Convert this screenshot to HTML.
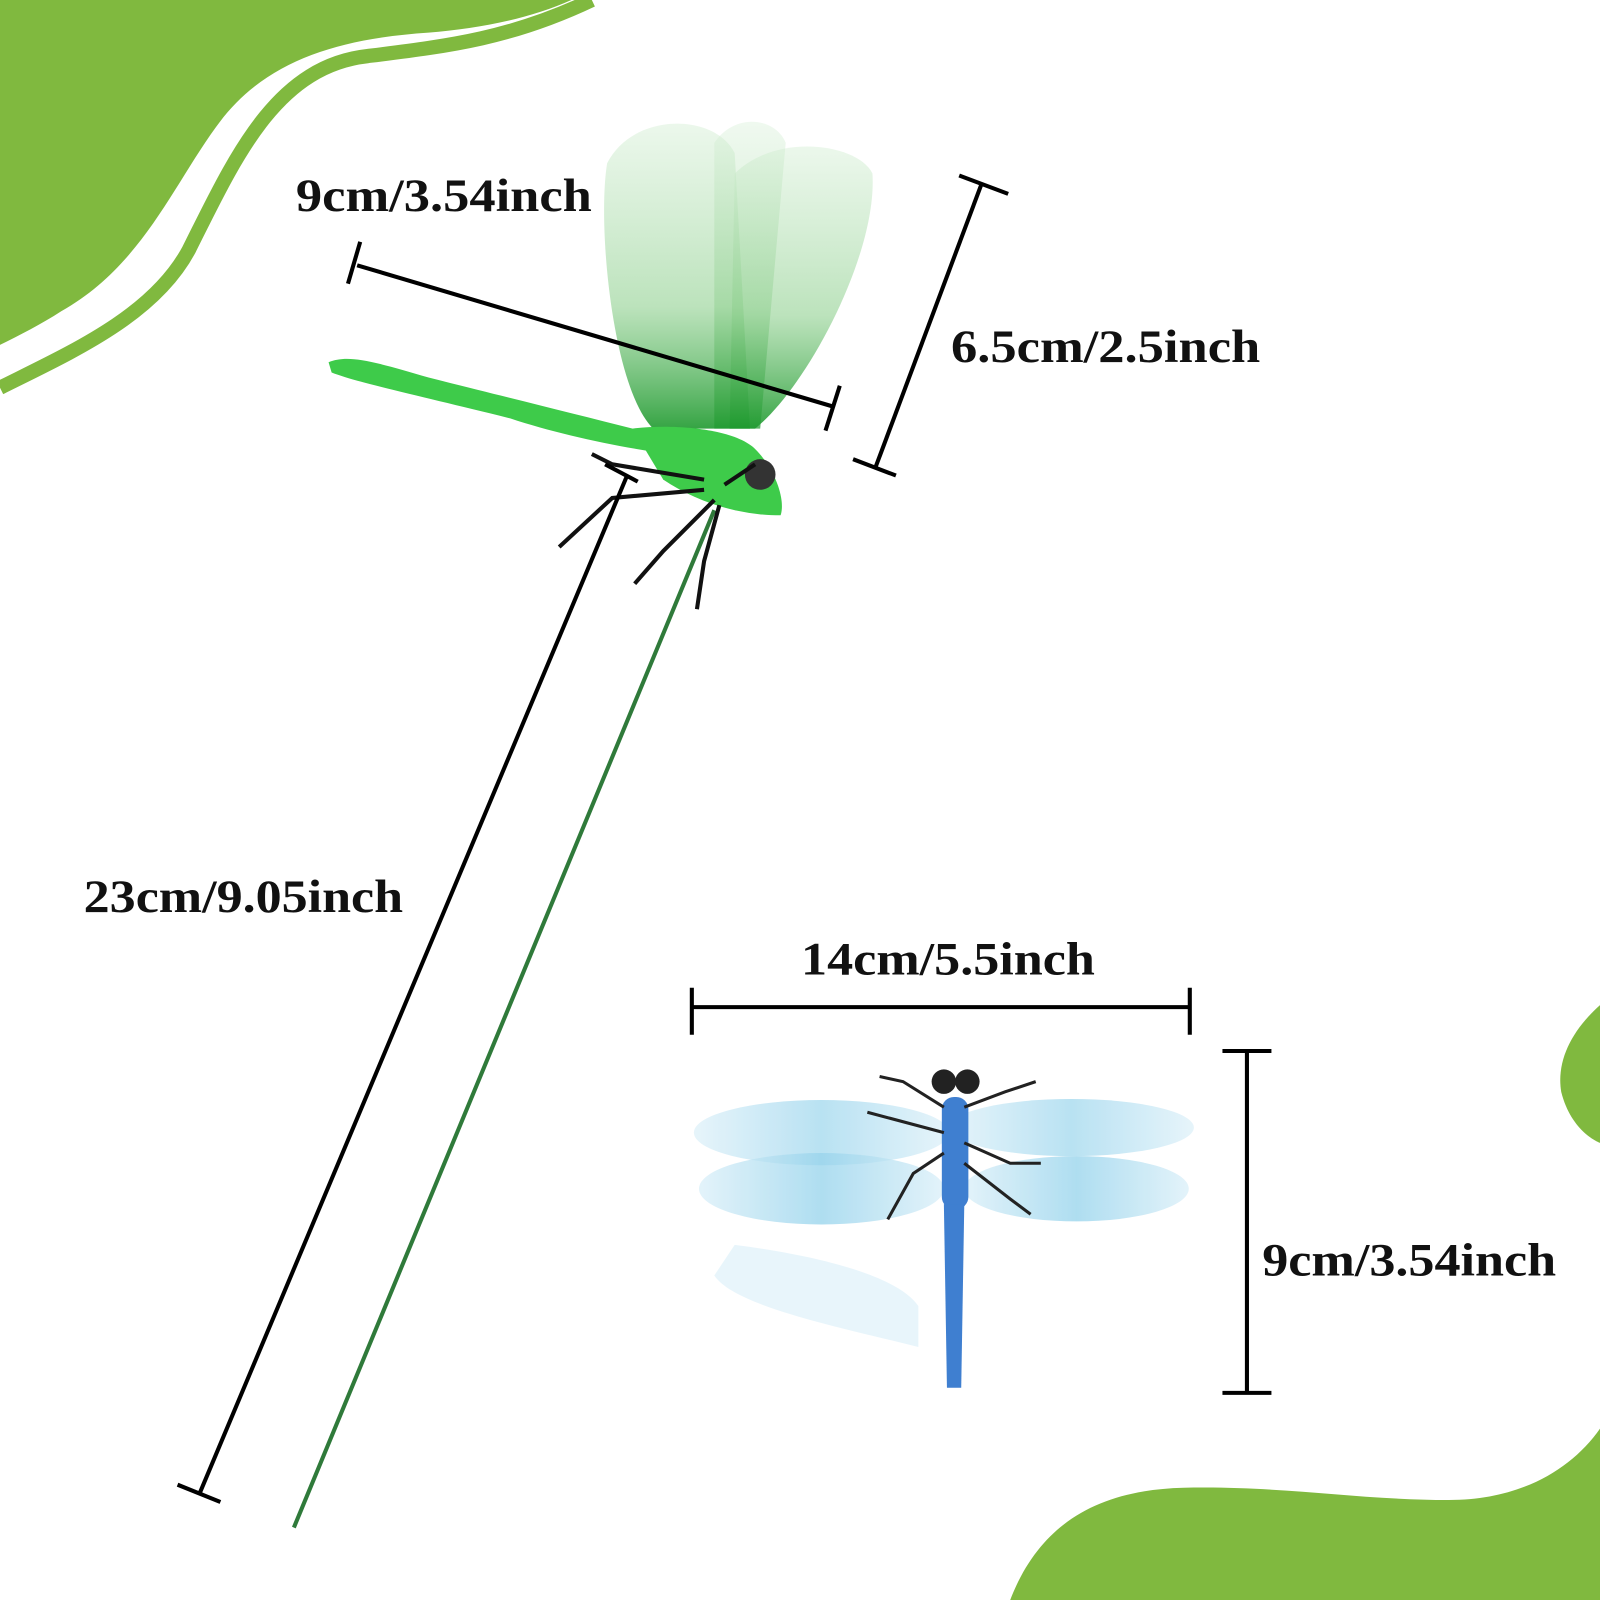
<!DOCTYPE html>
<html><head><style>html,body{margin:0;padding:0;background:#fff}svg{display:block}</style></head>
<body>
<svg width="1600" height="1600" viewBox="0 0 1568 1568" xmlns="http://www.w3.org/2000/svg">
<defs>
<linearGradient id="gw" x1="0" y1="0" x2="0" y2="1"><stop offset="0" stop-color="#d8f0d8" stop-opacity="0.5"/><stop offset="0.6" stop-color="#8fd08f" stop-opacity="0.6"/><stop offset="1" stop-color="#1f9a2f" stop-opacity="0.9"/></linearGradient>
<linearGradient id="bw" x1="0" y1="0" x2="1" y2="0"><stop offset="0" stop-color="#d8eef8"/><stop offset="0.5" stop-color="#8fd0ea"/><stop offset="1" stop-color="#d8eef8"/></linearGradient>
</defs>
<path d="M0,0 L560,0 C520,18 470,28 420,32 C330,38 260,60 215,120 C170,180 140,260 60,305 C40,318 20,328 0,338 Z" fill="#80b93f"/>
<path d="M0,380 C70,345 150,310 185,245 C230,155 270,65 360,55 C440,45 500,38 580,0" fill="none" stroke="#80b93f" stroke-width="14"/>
<path d="M990,1568 C1020,1490 1080,1460 1160,1458 C1260,1456 1330,1470 1420,1470 C1490,1470 1540,1440 1568,1400 L1568,1568 Z" fill="#80b93f"/>
<path d="M1568,985 C1540,1010 1525,1040 1530,1070 C1540,1110 1568,1120 1568,1120 Z" fill="#80b93f"/>
<line x1="700" y1="500" x2="288" y2="1497" stroke="#2f7a3a" stroke-width="4"/>
<path d="M595,160 C620,110 700,110 720,150 L735,420 L640,420 C600,380 585,220 595,160Z" fill="url(#gw)"/>
<path d="M720,170 C760,130 840,140 855,170 C860,250 790,380 740,420 L715,420 Z" fill="url(#gw)"/>
<path d="M700,140 C720,110 760,115 770,140 L745,420 L700,420 Z" fill="url(#gw)" opacity="0.8"/>
<path d="M322,355 C340,348 360,352 420,370 C500,390 560,405 620,420 L700,430 L700,450 C640,445 560,430 500,410 C420,390 350,375 325,365 Z" fill="#3ecb4a"/>
<path d="M620,420 C660,415 720,420 740,440 C760,460 770,490 765,505 C720,505 680,490 650,470 Z" fill="#3ecb4a"/>
<circle cx="745" cy="465" r="15" fill="#333"/>
<g stroke="#111" stroke-width="4" fill="none">
<path d="M690,470 L600,455 L580,445"/><path d="M690,480 L600,488 L548,536"/><path d="M700,490 L650,540 L622,572"/><path d="M705,495 L690,550 L683,597"/><path d="M710,475 L740,455"/>
</g>
<g opacity="0.9">
<ellipse cx="805" cy="1110" rx="125" ry="32" fill="url(#bw)" opacity="0.7"/>
<ellipse cx="805" cy="1165" rx="120" ry="35" fill="url(#bw)" opacity="0.8"/>
<ellipse cx="1050" cy="1105" rx="120" ry="28" fill="url(#bw)" opacity="0.7"/>
<ellipse cx="1055" cy="1165" rx="110" ry="32" fill="url(#bw)" opacity="0.8"/>
</g>
<path d="M720,1220 C800,1230 880,1250 900,1280 L900,1320 C820,1300 720,1280 700,1250 Z" fill="#d8eff8" opacity="0.6"/>
<rect x="923" y="1075" width="26" height="110" rx="12" fill="#3f7fd0"/>
<path d="M925,1180 L945,1180 L942,1360 L928,1360 Z" fill="#3f7fd0"/>
<circle cx="925" cy="1060" r="12" fill="#222"/><circle cx="948" cy="1060" r="12" fill="#222"/>
<g stroke="#222" stroke-width="3" fill="none">
<path d="M925,1085 L885,1060 L862,1055"/><path d="M945,1085 L985,1070 L1015,1060"/><path d="M925,1110 L850,1090"/><path d="M945,1120 L990,1140 L1020,1140"/><path d="M925,1130 L895,1150 L870,1195"/><path d="M945,1140 L990,1175 L1010,1190"/>
</g>
<g stroke="#000" stroke-width="4" fill="none">
<line x1="350" y1="260" x2="815" y2="398"/><line x1="353" y1="237" x2="341" y2="278"/><line x1="823" y1="378" x2="809" y2="422"/>
<line x1="962" y1="180" x2="858" y2="458"/><line x1="940" y1="172" x2="988" y2="190"/><line x1="836" y1="450" x2="878" y2="466"/>
<line x1="615" y1="465" x2="195" y2="1465"/><line x1="593" y1="455" x2="625" y2="472"/><line x1="174" y1="1455" x2="216" y2="1472"/>
<line x1="678" y1="987" x2="1166" y2="987"/><line x1="678" y1="968" x2="678" y2="1014"/><line x1="1166" y1="968" x2="1166" y2="1014"/>
<line x1="1222" y1="1030" x2="1222" y2="1365"/><line x1="1198" y1="1030" x2="1246" y2="1030"/><line x1="1198" y1="1365" x2="1246" y2="1365"/>
</g>
<g font-family="Liberation Serif, serif" font-weight="bold" font-size="46" fill="#111" lengthAdjust="spacingAndGlyphs">
<text x="290" y="207" textLength="290" lengthAdjust="spacingAndGlyphs">9cm/3.54inch</text>
<text x="932" y="355" textLength="303" lengthAdjust="spacingAndGlyphs">6.5cm/2.5inch</text>
<text x="82" y="894" textLength="313" lengthAdjust="spacingAndGlyphs">23cm/9.05inch</text>
<text x="785" y="955" textLength="288" lengthAdjust="spacingAndGlyphs">14cm/5.5inch</text>
<text x="1237" y="1250" textLength="288" lengthAdjust="spacingAndGlyphs">9cm/3.54inch</text>
</g>
</svg>
</body></html>
